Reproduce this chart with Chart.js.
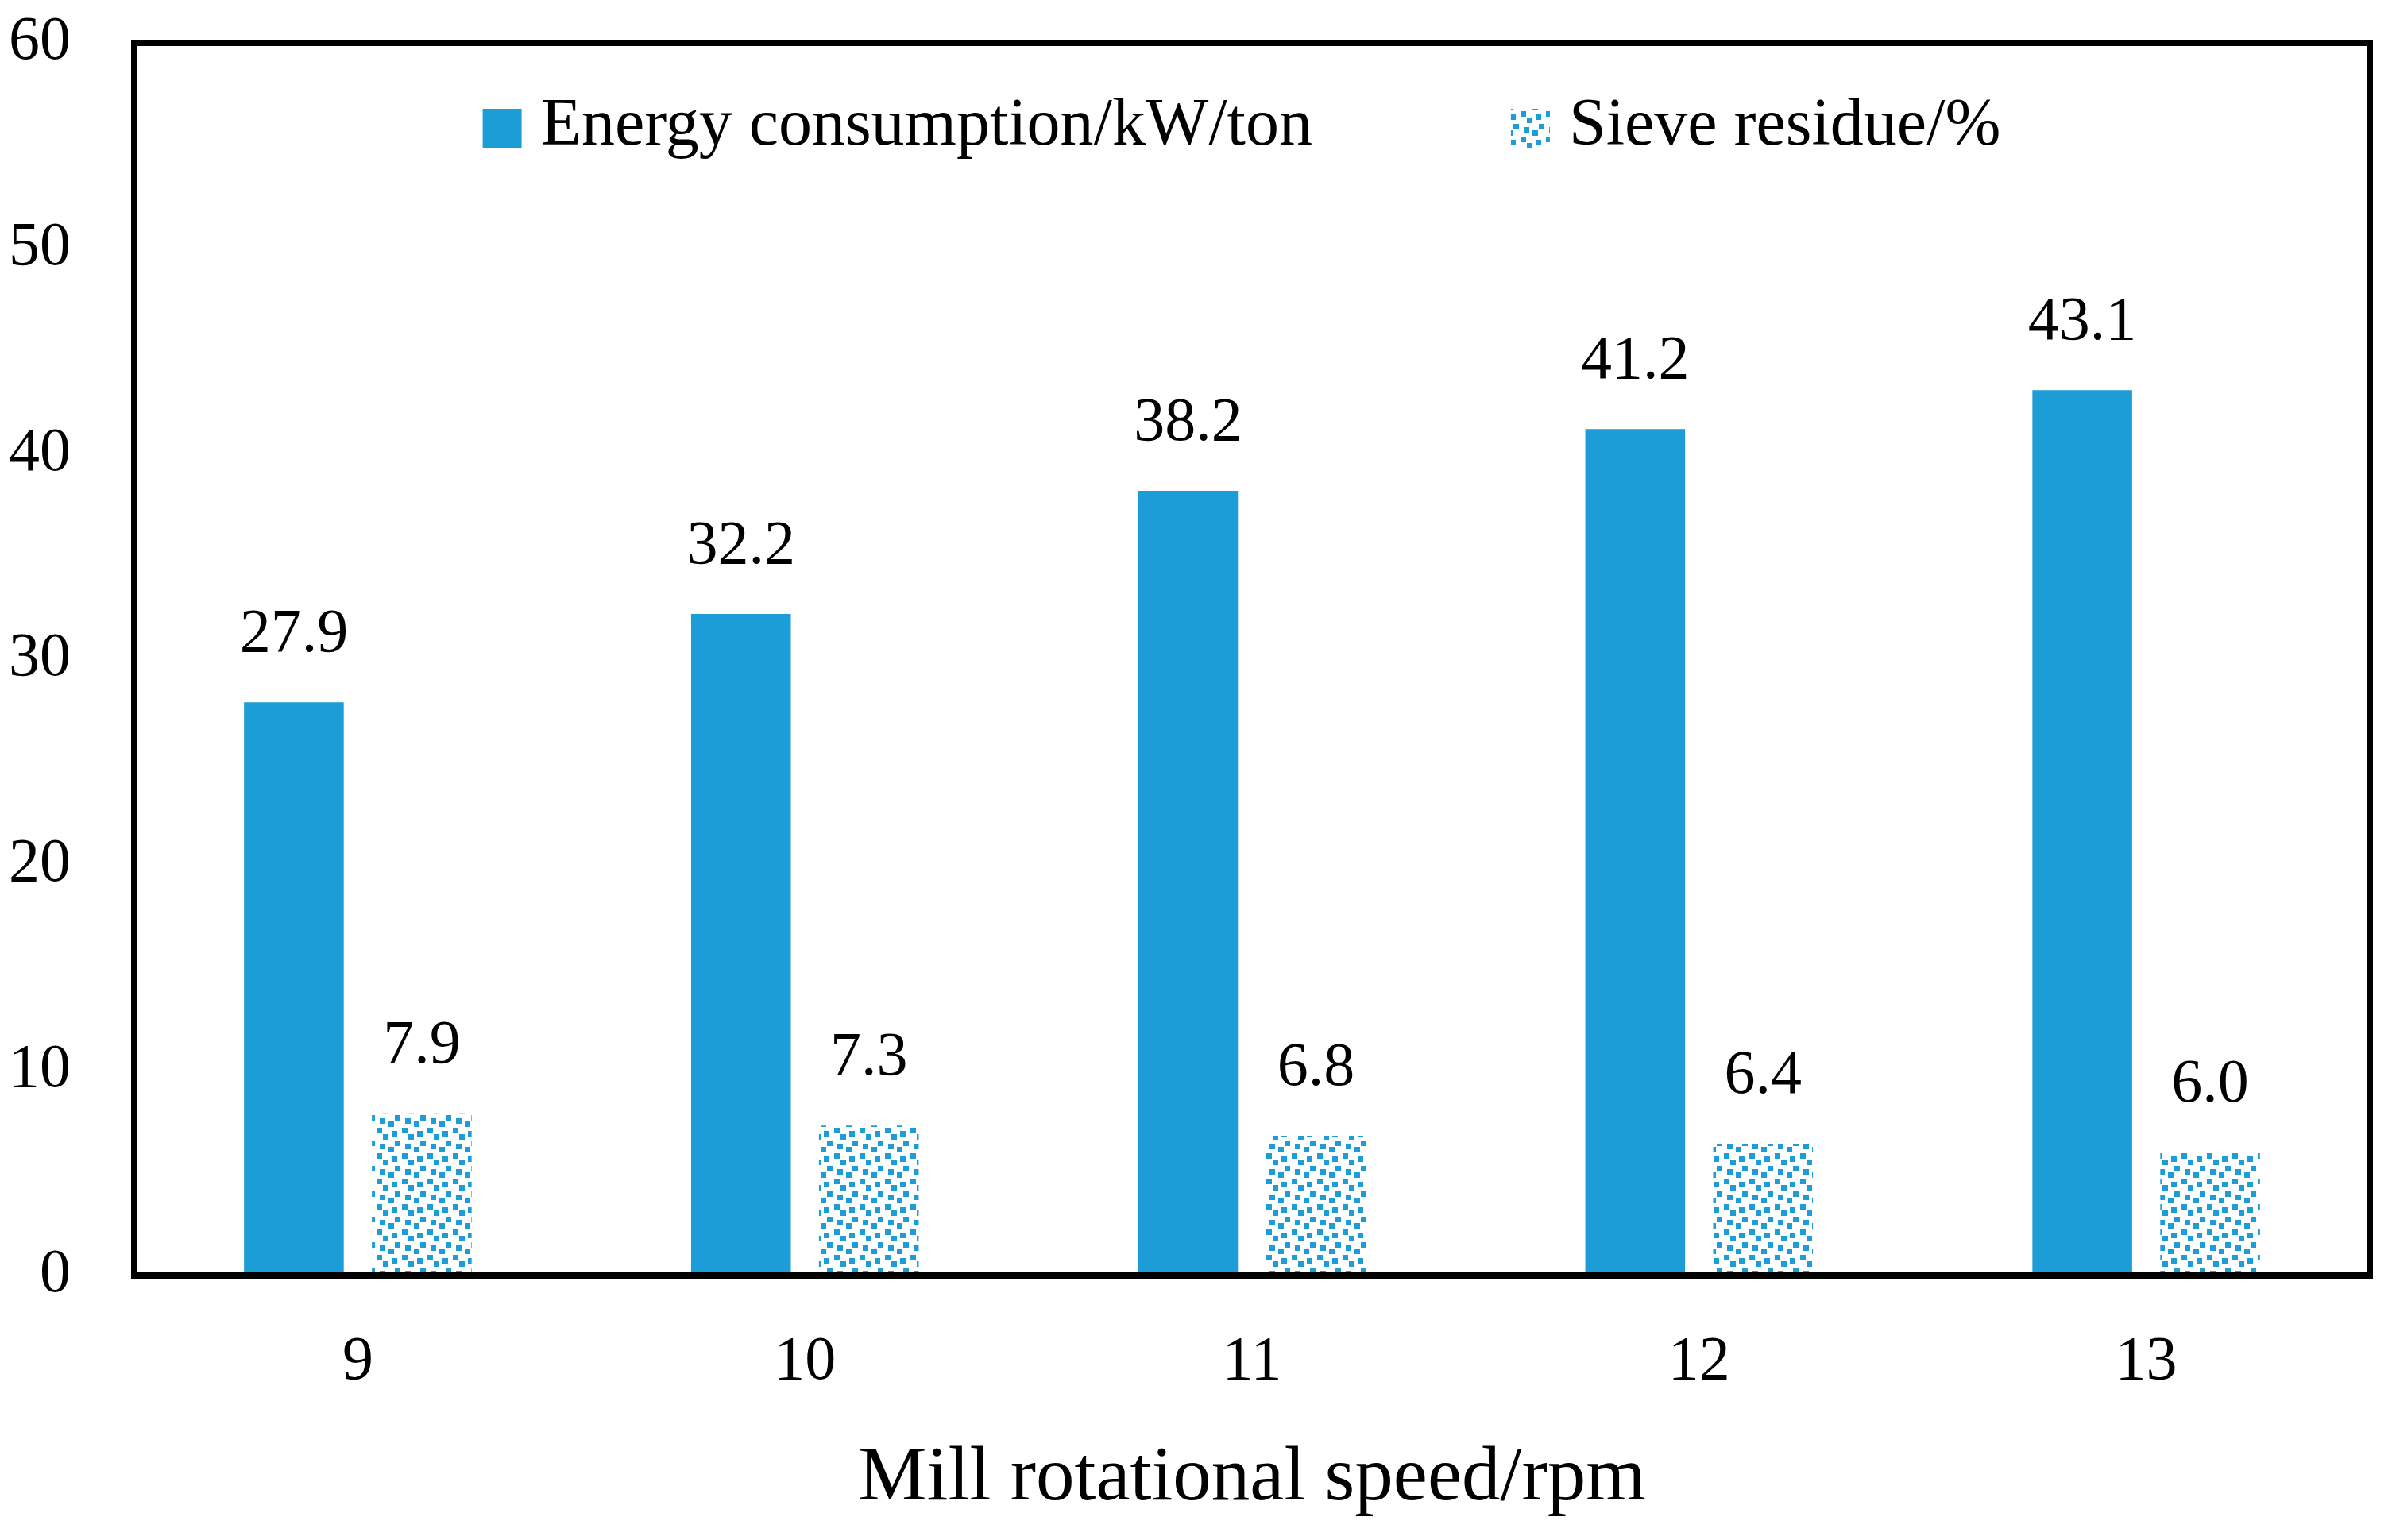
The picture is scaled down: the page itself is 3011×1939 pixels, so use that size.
<!DOCTYPE html>
<html><head><meta charset="utf-8">
<script src="https://cdn.jsdelivr.net/npm/chart.js@4.4.1/dist/chart.umd.min.js"></script>
<style>html,body{margin:0;padding:0;background:#fff;} canvas{display:block}</style>
</head><body>
<canvas id="c" width="3011" height="1939"></canvas>
<script>
const categories = ['9', '10', '11', '12', '13'];
const energyValues = [27.9, 32.2, 38.2, 41.2, 43.1];
const sieveValues = [7.9, 7.3, 6.8, 6.4, 6.0];
const yTicks = [0, 10, 20, 30, 40, 50, 60];
const seriesLabels = ['Energy consumption/kW/ton', 'Sieve residue/%'];
const axisTitleX = 'Mill rotational speed/rpm';

const FONT = '"Liberation Serif", "Times New Roman", serif';
const BLUE = '#1D9DD8';

const canvas = document.getElementById('c');
const ctx = canvas.getContext('2d');

function makePattern() {
  const t = document.createElement('canvas');
  t.width = 32; t.height = 32;
  const g = t.getContext('2d');
  g.fillStyle = '#fff'; g.fillRect(0, 0, 32, 32);
  g.fillStyle = BLUE;
  const sq = [[30, 0], [9, 4], [26, 12], [13, 16], [2, 20], [17, 28]];
  sq.forEach(([x, y]) => {
    for (const dx of [0, -32]) for (const dy of [0, -32]) g.fillRect(x + dx, y + dy, 7, 7);
  });
  return ctx.createPattern(t, 'repeat');
}
const pattern = makePattern();

const framePlugin = {
  id: 'frame',
  afterDatasetsDraw(chart) {
    const { ctx, chartArea: a } = chart;
    ctx.save();
    ctx.lineWidth = 8;
    ctx.strokeStyle = '#000';
    ctx.strokeRect(a.left, a.top, a.right - a.left, a.bottom - a.top);
    ctx.restore();
  }
};

const valuePlugin = {
  id: 'values',
  afterDatasetsDraw(chart) {
    const { ctx } = chart;
    ctx.save();
    ctx.font = '78px ' + FONT;
    ctx.fillStyle = '#000';
    ctx.textAlign = 'center';
    ctx.textBaseline = 'alphabetic';
    chart.data.datasets.forEach((ds, di) => {
      const meta = chart.getDatasetMeta(di);
      meta.data.forEach((el, i) => {
        ctx.fillText(Number(ds.data[i]).toFixed(1), el.x, el.y - 64);
      });
    });
    ctx.restore();
  }
};

const legendPlugin = {
  id: 'insideLegend',
  afterDraw(chart) {
    const { ctx, chartArea: a } = chart;
    ctx.save();
    ctx.font = '84px ' + FONT;
    ctx.textBaseline = 'alphabetic';
    ctx.textAlign = 'left';
    const box = 49, gapText = 24, gapItem = 250;
    const items = chart.data.datasets.map(d => ({ label: d.label, fill: d.backgroundColor, w: ctx.measureText(d.label).width }));
    const total = items.reduce((s, it) => s + box + gapText + it.w, 0) + gapItem * (items.length - 1);
    let x = (a.left + a.right) / 2 - 13 - total / 2;
    const boxTop = a.top + 83, baseline = a.top + 128;
    items.forEach(it => {
      ctx.fillStyle = it.fill;
      ctx.fillRect(x, boxTop, box, box);
      ctx.fillStyle = '#000';
      ctx.fillText(it.label, x + box + gapText, baseline);
      x += box + gapText + it.w + gapItem;
    });
    ctx.restore();
  }
};

new Chart(ctx, {
  type: 'bar',
  data: {
    labels: categories,
    datasets: [
      { label: seriesLabels[0], data: energyValues, backgroundColor: BLUE, categoryPercentage: 0.572, barPercentage: 0.78 },
      { label: seriesLabels[1], data: sieveValues, backgroundColor: pattern, categoryPercentage: 0.572, barPercentage: 0.78 }
    ]
  },
  options: {
    responsive: false,
    animation: false,
    devicePixelRatio: 1,
    layout: { padding: { top: 54, right: 28, left: 0, bottom: 0 } },
    plugins: { legend: { display: false }, tooltip: { enabled: false } },
    scales: {
      x: {
        grid: { display: false, drawTicks: false },
        border: { display: false },
        ticks: { font: { family: FONT, size: 78 }, color: '#000', padding: 63 },
        title: { display: true, text: axisTitleX, font: { family: FONT, size: 97 }, color: '#000', padding: { top: 0, bottom: 18 } },
        afterFit(s) { s.height = 333; s.paddingLeft = 0; s.paddingRight = 0; }
      },
      y: {
        min: 0, max: 60,
        afterBuildTicks(s) { s.ticks = yTicks.map(v => ({ value: v })); },
        grid: { display: false, drawTicks: false },
        border: { display: false },
        ticks: { font: { family: FONT, size: 78 }, color: '#000', padding: 80 },
        afterFit(s) { s.width = 169; s.paddingTop = 0; s.paddingBottom = 0; }
      }
    }
  },
  plugins: [framePlugin, valuePlugin, legendPlugin]
});
</script>
</body></html>
